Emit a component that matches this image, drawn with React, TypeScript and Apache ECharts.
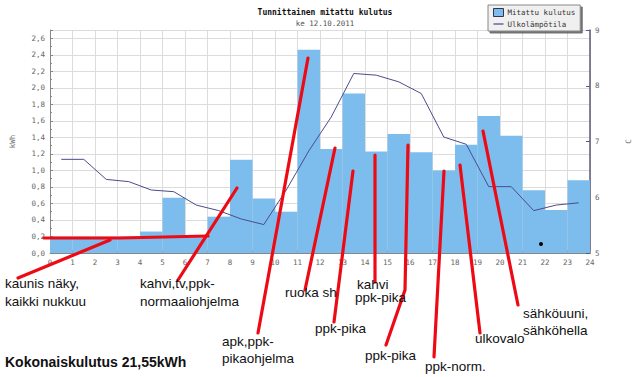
import React, { useEffect, useRef } from "react";
import * as echarts from "echarts";

// Hourly measured consumption (kWh), hour h covers [h, h+1)
const hours = [0, 1, 2, 3, 4, 5, 6, 7, 8, 9, 10, 11, 12, 13, 14, 15, 16, 17, 18, 19, 20, 21, 22, 23];
const kwh = [0.17, 0.17, 0.17, 0.17, 0.26, 0.67, 0.19, 0.44, 1.13, 0.66, 0.5, 2.46, 1.26, 1.93, 1.23, 1.44, 1.22, 1.0, 1.31, 1.66, 1.42, 0.76, 0.52, 0.88];
// Outdoor temperature (C), plotted at the middle of each hour
const temps = [6.68, 6.68, 6.32, 6.28, 6.13, 6.1, 5.86, 5.76, 5.61, 5.51, 6.13, 6.83, 7.44, 8.22, 8.19, 8.07, 7.86, 7.08, 6.95, 6.19, 6.19, 5.76, 5.86, 5.9];

const seriesNames = ["Mitattu kulutus", "Ulkolämpötila"];
const titleText = "Tunnittainen mitattu kulutus";
const subText = "ke 12.10.2011";
const totalText = "Kokonaiskulutus 21,55kWh";

const MONO = "DejaVu Sans Mono";
const SANS = "Liberation Sans, Arial, sans-serif";
const BAR = "#7dbdee";
const LINE = "#4b4b8c";
const RED = "#ee0a14";

export default function App() {
  const ref = useRef<HTMLDivElement>(null);
  useEffect(() => {
    if (!ref.current) return;
    const chart = echarts.init(ref.current, null, { renderer: "svg" });

    const redLine = (pts: number[][]) => ({
      type: "polyline",
      shape: { points: pts },
      style: { stroke: RED, lineWidth: 3.2, fill: null, lineCap: "round" },
      z: 100,
    });
    const label = (x: number, y: number, text: string, bold = false, size = 13.5) => ({
      type: "text",
      x,
      y,
      style: {
        text,
        fill: "#111",
        font: `${bold ? "bold " : ""}${size}px ${SANS}`,
        textVerticalAlign: "middle",
        lineHeight: 17,
      },
      z: 101,
    });

    const option: any = {
      animation: false,
      backgroundColor: "#ffffff",
      title: {
        text: titleText,
        subtext: subText,
        left: 320,
        textAlign: "center",
        top: 3,
        itemGap: 3,
        textStyle: { fontFamily: MONO, fontSize: 8, fontWeight: "bold", color: "#111" },
        subtextStyle: { fontFamily: MONO, fontSize: 7.5, color: "#555" },
      },
      legend: {
        orient: "vertical",
        left: 488,
        top: 5,
        padding: [3, 5, 3, 5],
        itemGap: 3,
        itemWidth: 10,
        itemHeight: 8,
        backgroundColor: "#f0f0f0",
        borderColor: "#888",
        borderWidth: 1,
        shadowColor: "rgba(80,80,80,0.8)",
        shadowBlur: 1,
        shadowOffsetX: 2,
        shadowOffsetY: 2,
        textStyle: { fontFamily: MONO, fontSize: 7.5, color: "#333", padding: [0, 0, 0, -1] },
        data: [
          { name: seriesNames[0], icon: "rect", itemStyle: { color: BAR, borderColor: "#335", borderWidth: 1 } },
          { name: seriesNames[1], icon: "path://M0,4 L12,4 L12,5.5 L0,5.5 Z", itemStyle: { color: LINE } },
        ],
      },
      grid: { left: 44, right: 43, top: 30, bottom: 124 },
      xAxis: {
        type: "value",
        min: 0,
        max: 24,
        interval: 1,
        axisLine: { lineStyle: { color: "#888" } },
        axisTick: { inside: true, length: 3, lineStyle: { color: "#888" } },
        axisLabel: { fontFamily: MONO, fontSize: 7.5, color: "#666", margin: 5 },
        splitLine: { show: true, lineStyle: { color: "#dcdcdc" } },
      },
      yAxis: [
        {
          type: "value",
          min: 0,
          max: 2.7,
          interval: 0.2,
          name: "kWh",
          nameLocation: "middle",
          nameGap: 34,
          nameRotate: 90,
          nameTextStyle: { fontFamily: MONO, fontSize: 7.5, color: "#777" },
          axisLine: { show: true, lineStyle: { color: "#888" } },
          axisTick: { show: true, inside: true, length: 3, lineStyle: { color: "#888" } },
          minorTick: { show: true, splitNumber: 2, length: 2, lineStyle: { color: "#888" } },
          axisLabel: {
            fontFamily: MONO,
            fontSize: 7.5,
            color: "#666",
            margin: 5,
            formatter: (v: number) => (v > 2.65 ? "" : v.toFixed(1).replace(".", ",")),
          },
          splitLine: { show: true, lineStyle: { color: "#dcdcdc" } },
        },
        {
          type: "value",
          min: 5,
          max: 9,
          interval: 1,
          position: "right",
          name: "C",
          nameLocation: "middle",
          nameGap: 34,
          nameRotate: 90,
          nameTextStyle: { fontFamily: MONO, fontSize: 7.5, color: "#777" },
          axisLine: { show: true, lineStyle: { color: "#5a5a78", width: 1.5 } },
          axisTick: { show: true, inside: true, length: 4, lineStyle: { color: "#5a5a78" } },
          axisLabel: { fontFamily: MONO, fontSize: 7.5, color: "#666", margin: 5 },
          splitLine: { show: false },
        },
      ],
      series: [
        {
          name: seriesNames[0],
          type: "custom",
          xAxisIndex: 0,
          yAxisIndex: 0,
          itemStyle: { color: BAR },
          encode: { x: 0, y: 1 },
          data: hours.map((h, i) => [h, kwh[i]]),
          renderItem: (params: any, api: any) => {
            const h = api.value(0);
            const v = api.value(1);
            const p0 = api.coord([h, v]);
            const p1 = api.coord([h + 1, 0]);
            return {
              type: "rect",
              shape: { x: p0[0], y: p0[1], width: p1[0] - p0[0], height: p1[1] - p0[1] },
              style: { fill: BAR },
            };
          },
          z: 2,
        },
        {
          name: seriesNames[1],
          type: "line",
          yAxisIndex: 1,
          symbol: "none",
          lineStyle: { color: LINE, width: 1 },
          itemStyle: { color: LINE },
          data: hours.map((h, i) => [h + 0.5, temps[i]]),
          z: 3,
        },
      ],
      graphic: [
        redLine([[44, 238], [120, 238], [208, 236]]),
        redLine([[18, 278], [110, 240]]),
        redLine([[178, 280], [237, 188]]),
        redLine([[258, 333], [308, 58]]),
        redLine([[305, 290], [335, 148]]),
        redLine([[334, 322], [353, 171]]),
        redLine([[375, 155], [375, 282]]),
        redLine([[408, 145], [405, 290], [386, 345]]),
        redLine([[444, 171], [434, 357]]),
        redLine([[460, 165], [480, 333]]),
        redLine([[483, 131], [518, 305]]),
        { type: "circle", shape: { cx: 541, cy: 244, r: 2 }, style: { fill: "#000" }, z: 100 },
        label(5, 283, "kaunis näky,"),
        label(5, 301, "kaikki nukkuu"),
        label(140, 283, "kahvi,tv,ppk-"),
        label(140, 301, "normaaliohjelma"),
        label(285, 292, "ruoka sh"),
        label(357, 284, "kahvi"),
        label(355, 297.5, "ppk-pika"),
        label(315, 328, "ppk-pika"),
        label(523, 313, "sähköuuni,"),
        label(523, 330, "sähköhella"),
        label(475, 338, "ulkovalo"),
        label(222, 341, "apk,ppk-"),
        label(222, 358, "pikaohjelma"),
        label(365, 355, "ppk-pika"),
        label(425, 366, "ppk-norm."),
        label(5, 362, totalText, true, 14),
      ],
    };

    chart.setOption(option);
    return () => chart.dispose();
  }, []);

  return <div ref={ref} style={{ position: "fixed", left: 0, top: 0, width: 640, height: 377 }} />;
}
